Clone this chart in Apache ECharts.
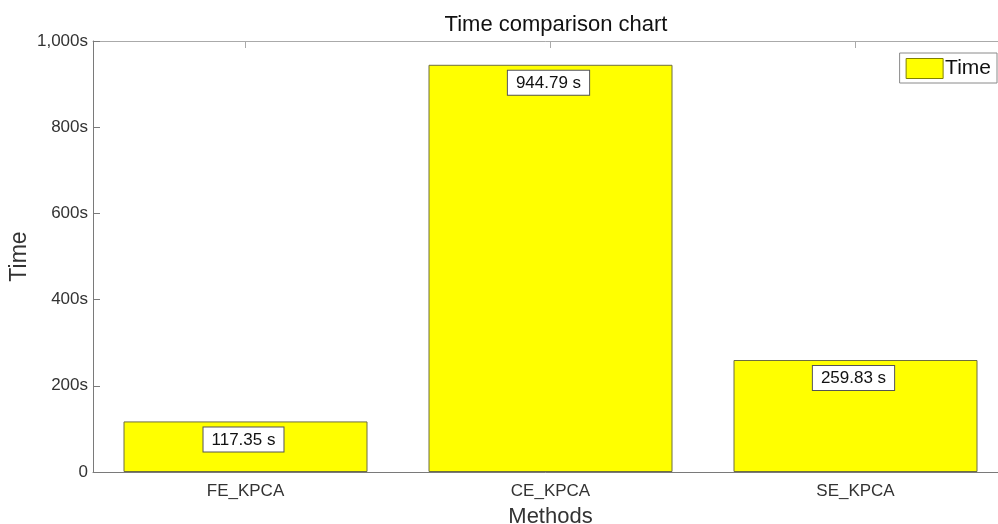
<!DOCTYPE html>
<html>
<head>
<meta charset="utf-8">
<script src="https://cdn.jsdelivr.net/npm/echarts@6/dist/echarts.min.js"></script>
<style>
html,body{margin:0;padding:0;background:#fff;}
#chart{width:998px;height:524px;}
</style>
</head>
<body>
<div id="chart"></div>
<script>
const categories = ['FE_KPCA', 'CE_KPCA', 'SE_KPCA'];
const timeValues = [117.35, 944.79, 259.83];
const yTicks = [0, 200, 400, 600, 800, 1000];

const chart = echarts.init(document.getElementById('chart'));
const font = 'Liberation Sans, Arial, Helvetica, sans-serif';
const axisColor = '#7a7a7a';

chart.setOption({
  animation: false,
  title: {
    text: 'Time comparison chart',
    left: 551, top: 9, textAlign: 'center',
    textStyle: {fontFamily: font, fontSize: 22, fontWeight: 'normal', color: '#111'}
  },
  legend: {
    right: 1, top: 53,
    orient: 'vertical',
    itemWidth: 37, itemHeight: 20,
    padding: [5, 6, 4, 6],
    borderColor: '#8a8a8a', borderWidth: 1,
    backgroundColor: '#fff',
    itemGap: 4,
    textStyle: {fontFamily: font, fontSize: 21, color: '#111', padding: [0, 0, 0, -3]},
    data: [{name: 'Time', icon: 'rect', itemStyle: {borderColor: '#808000', borderWidth: 1}}]
  },
  grid: {left: 93, top: 41, width: 915, height: 431, containLabel: false, outerBoundsMode: 'none'},
  xAxis: [{
    type: 'category',
    data: categories,
    name: 'Methods',
    nameLocation: 'middle',
    nameGap: 34,
    nameTextStyle: {fontFamily: font, fontSize: 22, color: '#333'},
    axisLine: {lineStyle: {color: axisColor}},
    axisTick: {show: false},
    axisLabel: {fontFamily: font, fontSize: 17, color: '#333', margin: 11}
  }, {
    type: 'category',
    data: categories,
    position: 'top',
    axisLine: {onZero: false, lineStyle: {color: '#aaa'}},
    axisTick: {show: true, inside: true, alignWithLabel: true, length: 7, lineStyle: {color: '#aaa'}},
    axisLabel: {show: false}
  }],
  yAxis: [{
    type: 'value',
    min: 0, max: 1000, interval: 200,
    name: 'Time',
    nameLocation: 'middle',
    nameGap: 73,
    nameMoveOverlap: false,
    nameTextStyle: {fontFamily: font, fontSize: 23, color: '#333', verticalAlign: 'middle'},
    axisLine: {show: true, onZero: false, lineStyle: {color: axisColor}},
    axisTick: {show: true, inside: true, length: 7, lineStyle: {color: axisColor}},
    splitLine: {show: false},
    axisLabel: {
      fontFamily: font, fontSize: 17, color: '#333', margin: 5,
      formatter: v => v === 0 ? '0' : v.toLocaleString('en-US') + 's'
    }
  }, {
    type: 'value',
    min: 0, max: 1000, interval: 200,
    position: 'right',
    axisLine: {show: true, onZero: false, lineStyle: {color: axisColor}},
    axisTick: {show: true, inside: true, length: 7, lineStyle: {color: axisColor}},
    splitLine: {show: false},
    axisLabel: {show: false}
  }],
  series: [{
    name: 'Time',
    type: 'bar',
    data: timeValues,
    barWidth: '80%',
    itemStyle: {color: '#ffff00', borderColor: '#6e6e40', borderWidth: 1},
    label: {
      show: true,
      position: 'insideTop',
      distance: 6,
      offset: [-2, 0],
      formatter: p => p.value.toFixed(2) + ' s',
      fontFamily: font, fontSize: 17, color: '#111',
      backgroundColor: '#fff',
      borderColor: '#555', borderWidth: 1,
      padding: [4, 8, 3, 8]
    }
  }]
});
</script>
</body>
</html>
